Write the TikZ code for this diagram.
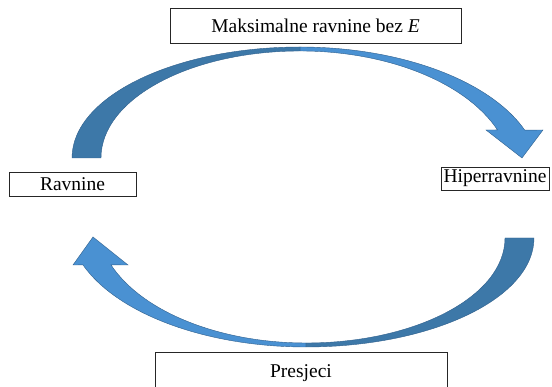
\documentclass[tikz,border=0pt]{standalone}
\usepackage{fontspec}
\setmainfont{Liberation Serif}
\definecolor{darkblue}{RGB}{61,120,168}
\definecolor{lightblue}{RGB}{74,145,210}
\definecolor{edgeblue}{RGB}{47,95,140}
\begin{document}
\begin{tikzpicture}[x=1pt,y=1pt,
  lbl/.style={draw=black!85, line width=0.8pt, inner sep=0pt, font=\fontsize{19.5}{23}\selectfont},
  back/.style={fill=darkblue, draw=edgeblue, line width=0.4pt},
  front/.style={fill=lightblue, draw=edgeblue, line width=0.4pt, line join=miter}]
\clip (0,0) rectangle (552,387);
% top arrow (Ravnine -> Hiperravnine)
\draw[front] (300,340) arc[start angle=90,end angle=20.5,x radius=240pt,y radius=128pt]
  -- (543,257) -- (522,229) -- (486,257) -- (497.5,257.05)
  arc[start angle=21.3,end angle=90,x radius=212pt,y radius=124pt] -- cycle;
\draw[back] (72,229) arc[start angle=180,end angle=90,x radius=228pt,y radius=111pt]
  -- (300,336) arc[start angle=90,end angle=180,x radius=199pt,y radius=107pt] -- cycle;
% bottom arrow (Hiperravnine -> Ravnine)
\draw[front] (306,40) arc[start angle=270,end angle=200.4,x radius=238pt,y radius=126pt]
  -- (73,122) -- (93,150) -- (128,122) -- (111.0,122.1)
  arc[start angle=201.1,end angle=270,x radius=209pt,y radius=122pt] -- cycle;
\draw[back] (534,149) arc[start angle=0,end angle=-90,x radius=228pt,y radius=109pt]
  -- (306,44) arc[start angle=-90,end angle=0,x radius=199pt,y radius=105pt] -- cycle;
% boxes
\node[lbl, minimum width=291pt, minimum height=35pt] (maks) at (315.5,361.5) {Maksimalne ravnine bez \textit{E}};
\node[lbl, minimum width=127pt, minimum height=24pt] (rav) at (72.5,203) {Ravnine};
\node[lbl, minimum width=108pt, minimum height=23pt] (hip) at (495,208.5) {Hiperravnine};
\node[lbl, minimum width=292pt, minimum height=42pt] (pres) at (301,14) {Presjeci};
\end{tikzpicture}
\end{document}
